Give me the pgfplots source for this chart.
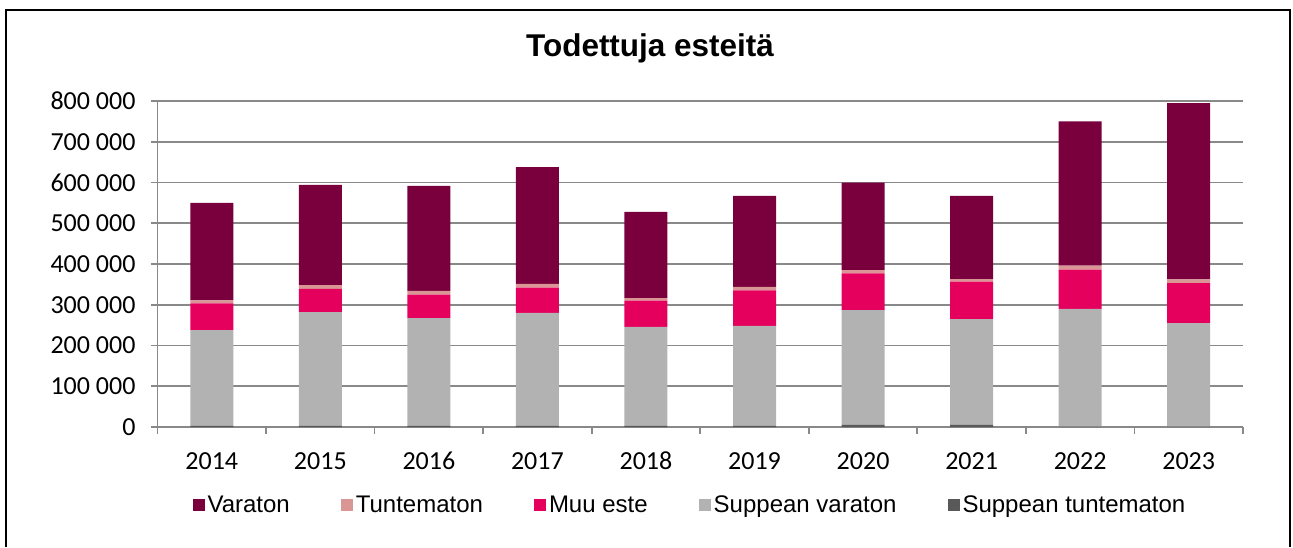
\documentclass[border=0pt]{standalone}
\usepackage{pgfplots}
\pgfplotsset{compat=1.18}
\usepackage{fontspec}
\setmainfont{Liberation Sans}
\newfontfamily\carlito{Carlito}
\definecolor{cVaraton}{RGB}{122,0,61}
\definecolor{cTunt}{RGB}{217,150,148}
\definecolor{cMuu}{RGB}{230,0,94}
\definecolor{cSV}{RGB}{178,178,178}
\definecolor{cST}{RGB}{89,89,89}
\definecolor{cGrid}{RGB}{137,137,137}
\pgfplotstableread{
x ST SV Muu Tunt Var
0 3000 235000 65600 7300 239000
1 3000 279000 57000 9000 246000
2 3000 264000 58000 9000 258000
3 3000 277000 62000 9000 287000
4 3000 243000 64000 6000 212000
5 3000 245000 87000 9000 223000
6 5000 282000 90000 8000 215000
7 5000 260000 92000 6000 204000
8 1000 289000 96000 10000 354000
9 1000 254000 98000 9000 433000
}\datatable
\begin{document}
\begin{tikzpicture}
\useasboundingbox (0,0) rectangle (969.75pt,410.25pt);
\draw[line width=1.5pt] (4.5pt,0) -- (4.5pt,402.75pt) -- (967.5pt,402.75pt) -- (967.5pt,0);
\node at (487.5pt,374.25pt) {\fontsize{23.6}{24}\selectfont\bfseries Todettuja esteitä};
\begin{axis}[
 at={(118.125pt,90pt)}, anchor=south west,
 scale only axis, width=814.1pt, height=244.5pt,
 ybar stacked, bar width=32.25pt,
 xmin=-0.5, xmax=9.5, ymin=0, ymax=800000,
 xtick={0,...,9},
 xticklabels={2014,2015,2016,2017,2018,2019,2020,2021,2022,2023},
 major x tick style={draw=none},
 minor xtick={-0.5,0.5,...,9.5},
 ytick={0,100000,...,800000},
 yticklabels={0,100 000,200 000,300 000,400 000,500 000,600 000,700 000,800 000},
 scaled y ticks=false,
 ymajorgrids,
 grid style={draw=cGrid, line width=1.3pt},
 axis lines*=left,
 axis line style={draw=cGrid, line width=1.3pt},
 tick align=outside,
 tick style={draw=cGrid, line width=1.3pt},
 major tick length=5pt, minor tick length=5pt,
 tick label style={font=\carlito\fontsize{19.5}{19.5}\selectfont},
 yticklabel style={xshift=-8pt},
 xticklabel style={yshift=-10pt, text height=13.5pt, text depth=0pt},
 legend style={at={(0.491,-0.239)}, anchor=center, draw=none, fill=none,
   legend columns=5, font=\fontsize{18}{18}\selectfont,
   /tikz/every even column/.append style={column sep=36.5pt}},
 reverse legend,
 legend cell align=left,
 legend image code/.code={\fill[#1] (0pt,-4.5pt) rectangle (9pt,4.5pt);},
]
\addplot[fill=cST, draw=none] table[x=x,y=ST]{\datatable};
\addplot[fill=cSV, draw=none] table[x=x,y=SV]{\datatable};
\addplot[fill=cMuu, draw=none] table[x=x,y=Muu]{\datatable};
\addplot[fill=cTunt, draw=none] table[x=x,y=Tunt]{\datatable};
\addplot[fill=cVaraton, draw=none] table[x=x,y=Var]{\datatable};
\legend{Suppean tuntematon,Suppean varaton,Muu este,Tuntematon,Varaton}
\end{axis}
\end{tikzpicture}
\end{document}
